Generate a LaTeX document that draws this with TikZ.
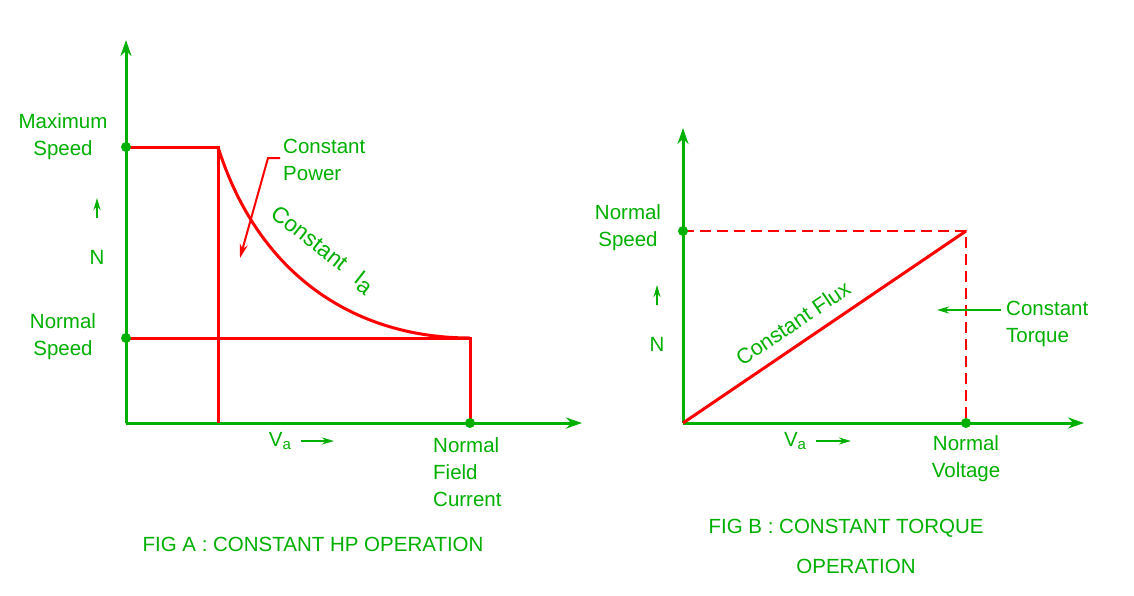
\documentclass[tikz,border=0pt]{standalone}
\usepackage{fontspec}
\setmainfont{Liberation Sans}
\usetikzlibrary{arrows.meta}
\definecolor{gr}{HTML}{00B000}
\definecolor{rd}{HTML}{FF0000}
\begin{document}
\begin{tikzpicture}[x=1pt,y=-1pt,
  ax/.style={gr,line width=3pt,-{Stealth[length=16pt,width=11pt]}},
  rl/.style={rd,line width=3pt},
  lb/.style={gr,font=\fontsize{20.5}{27}\selectfont,align=center,inner sep=0pt},
  sm/.style={gr,line width=2.2pt,-{Stealth[length=12pt,width=7pt]}},
  dot/.style={circle,fill=gr,inner sep=0pt,minimum size=10pt}]
\fill[white] (0,0) rectangle (1134,595);
\useasboundingbox (0,0) rectangle (1134,595);
% Fig A
\coordinate (oA) at (126,423);
\coordinate (yA) at (126,40);
\coordinate (xA) at (582,423);
\draw[ax] (oA) -- (yA);
\draw[ax] (oA) -- (xA);
\coordinate (m1) at (126,147); \coordinate (m2) at (218,147);
\coordinate (m3) at (218,423);
\coordinate (n1) at (126,338); \coordinate (n2) at (470,338); \coordinate (n3) at (470,423);
\draw[rl] (m1) -- (m2) -- (m3);
\draw[rl] (n1) -- (n2) -- (n3);
\draw[rl] (m2) .. controls (260,280) and (360,338) .. (n2);
\node[dot] at (m1) {}; \node[dot] at (n1) {}; \node[dot] at (n3) {};
\node[lb] (maxs) at (63,137) {Maximum\\Speed};
\node[lb] (nors) at (63,337) {Normal\\Speed};
\node[lb,align=left,anchor=west] (cp) at (283,160) {Constant\\Power};
\coordinate (cp1) at (280,158); \coordinate (cp2) at (268,158);
\coordinate (cp3) at (240,258);
\draw[rd,line width=2pt,-{Stealth[length=14pt,width=8pt]}] (cp1) -- (cp2) -- (cp3);
\node[lb,rotate=-38,font=\fontsize{22.5}{27}\selectfont] (cia) at (322,250) {Constant\hspace{0.7em}I\raisebox{-0.35ex}{a}};
\node[lb,align=left,anchor=north west] (nfc) at (433,437) {Normal\\Field\\Current};
\node[lb] (NA) at (97,257) {N};
\coordinate (na1) at (97,218); \coordinate (na2) at (97,198);
\draw[sm] (na1) -- (na2);
\node[lb] (VA) at (280,441) {V\raisebox{-0.3ex}{\fontsize{15}{17}\selectfont a}};
\coordinate (va1) at (301,441); \coordinate (va2) at (334,441);
\draw[sm] (va1) -- (va2);
\node[lb] (capA) at (313,544) {FIG A : CONSTANT HP OPERATION};
% Fig B
\coordinate (oB) at (683,423);
\coordinate (yB) at (683,128);
\coordinate (xB) at (1084,423);
\draw[ax] (oB) -- (yB);
\draw[ax] (oB) -- (xB);
\coordinate (s1) at (683,231); \coordinate (c) at (966,231); \coordinate (v1) at (966,423);
\draw[rd,line width=2.4pt,dash pattern=on 11pt off 6pt] (s1) -- (c) -- (v1);
\draw[rl] (oB) -- (c);
\node[dot] at (s1) {}; \node[dot] at (v1) {};
\node[lb] (ns) at (628,228) {Normal\\Speed};
\node[lb,rotate=34,font=\fontsize{21.5}{27}\selectfont] (cf) at (793,323) {Constant Flux};
\node[lb,align=left,anchor=west] (ct) at (1006,324) {Constant\\Torque};
\coordinate (ct1) at (1001,310); \coordinate (ct2) at (937,310);
\draw[sm] (ct1) -- (ct2);
\node[lb] (NB) at (657,344) {N};
\coordinate (nb1) at (657,305); \coordinate (nb2) at (657,285);
\draw[sm] (nb1) -- (nb2);
\node[lb] (VB) at (795,441) {V\raisebox{-0.3ex}{\fontsize{15}{17}\selectfont a}};
\coordinate (vb1) at (816,441); \coordinate (vb2) at (851,441);
\draw[sm] (vb1) -- (vb2);
\node[lb] (nv) at (966,459) {Normal\\Voltage};
\node[lb] (capB) at (846,528) {FIG B : CONSTANT TORQUE};
\node[lb] (capB2) at (856,566) {OPERATION};
\end{tikzpicture}
\end{document}
